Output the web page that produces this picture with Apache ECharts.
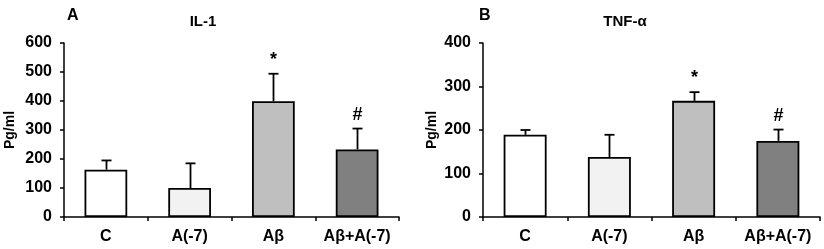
<!DOCTYPE html>
<html>
<head>
<meta charset="utf-8">
<script src="https://cdn.jsdelivr.net/npm/echarts@6/dist/echarts.min.js"></script>
<style>
  html, body { margin: 0; padding: 0; background: #fff; }
  #chart { width: 824px; height: 249px; }
</style>
</head>
<body>
<div id="chart"></div>
<script>
const categories = ['C', 'A(-7)', 'Aβ', 'Aβ+A(-7)'];
const barColors = ['#ffffff', '#f2f2f2', '#bfbfbf', '#808080'];
const marks = ['', '', '*', '#'];

const il1Mean = [163, 100, 399, 233];
const il1SD = [32, 85, 95, 72];
const tnfMean = [189, 138, 267, 175];
const tnfSD = [11, 51, 20, 26];

const font = 'Liberation Sans, Arial, sans-serif';

function barSeries(idx, mean) {
    return {
        type: 'bar',
        xAxisIndex: idx,
        yAxisIndex: idx,
        barWidth: '51%',
        data: mean.map((v, i) => ({
            value: v,
            itemStyle: { color: barColors[i], borderColor: '#000', borderWidth: 1.8 }
        })),
        z: 2
    };
}

function errSeries(idx, mean, sd) {
    return {
        type: 'custom',
        xAxisIndex: idx,
        yAxisIndex: idx,
        data: mean.map((v, i) => [i, v, v + sd[i]]),
        z: 3,
        renderItem: (params, api) => {
            let base = api.coord([api.value(0), api.value(1)]);
            let top = api.coord([api.value(0), api.value(2)]);
            let x = Math.round(base[0]) + 0.5;
            let style = { stroke: '#000', lineWidth: 1.8 };
            let children = [
                { type: 'line', shape: { x1: x, y1: base[1], x2: x, y2: top[1] }, style: style },
                { type: 'line', shape: { x1: x - 5, y1: top[1], x2: x + 5, y2: top[1] }, style: style }
            ];
            let m = marks[params.dataIndex];
            if (m) {
                children.push({
                    type: 'text',
                    style: {
                        text: m, x: x, y: top[1] - 5,
                        align: 'center', verticalAlign: 'bottom',
                        font: 'bold 18px ' + font, fill: '#000'
                    }
                });
            }
            return { type: 'group', children: children };
        }
    };
}

function xAxis(idx) {
    return {
        type: 'category',
        gridIndex: idx,
        data: categories,
        axisLine: { lineStyle: { color: '#000', width: 1.5 } },
        axisTick: { show: true, length: 4, lineStyle: { color: '#000', width: 1.5 } },
        axisLabel: { interval: 0, color: '#000', fontWeight: 'bold', fontSize: 16, fontFamily: font, margin: 12 }
    };
}

function yAxis(idx, max) {
    return {
        type: 'value',
        gridIndex: idx,
        min: 0,
        max: max,
        interval: 100,
        name: 'Pg/ml',
        nameLocation: 'middle',
        nameGap: idx === 0 ? 47 : 44,
        nameTextStyle: { color: '#000', fontWeight: 'bold', fontSize: 14, fontFamily: font },
        splitLine: { show: false },
        axisLine: { show: true, lineStyle: { color: '#000', width: 1.5 } },
        axisTick: { show: true, length: 4, lineStyle: { color: '#000', width: 1.5 } },
        axisLabel: { color: '#000', fontWeight: 'bold', fontSize: 16, fontFamily: font, margin: 12 }
    };
}

let chart = echarts.init(document.getElementById('chart'));
let titleStyle = { color: '#000', fontWeight: 'bold', fontSize: 15, fontFamily: font };
let option = {
    animation: false,
    title: [
        { text: 'A', left: 62, top: 3, textStyle: { ...titleStyle, fontSize: 16 } },
        { text: 'IL-1', left: 198, top: 9, textAlign: 'center', textStyle: titleStyle },
        { text: 'B', left: 474, top: 3, textStyle: { ...titleStyle, fontSize: 16 } },
        { text: 'TNF-α', left: 620, top: 9, textAlign: 'center', textStyle: titleStyle }
    ],
    grid: [
        { left: 64, right: 425, top: 43, bottom: 32 },
        { left: 483, right: 4, top: 43, bottom: 32 }
    ],
    xAxis: [xAxis(0), xAxis(1)],
    yAxis: [yAxis(0, 600), yAxis(1, 400)],
    series: [
        barSeries(0, il1Mean),
        errSeries(0, il1Mean, il1SD),
        barSeries(1, tnfMean),
        errSeries(1, tnfMean, tnfSD)
    ]
};

option && chart.setOption(option);
</script>
</body>
</html>
